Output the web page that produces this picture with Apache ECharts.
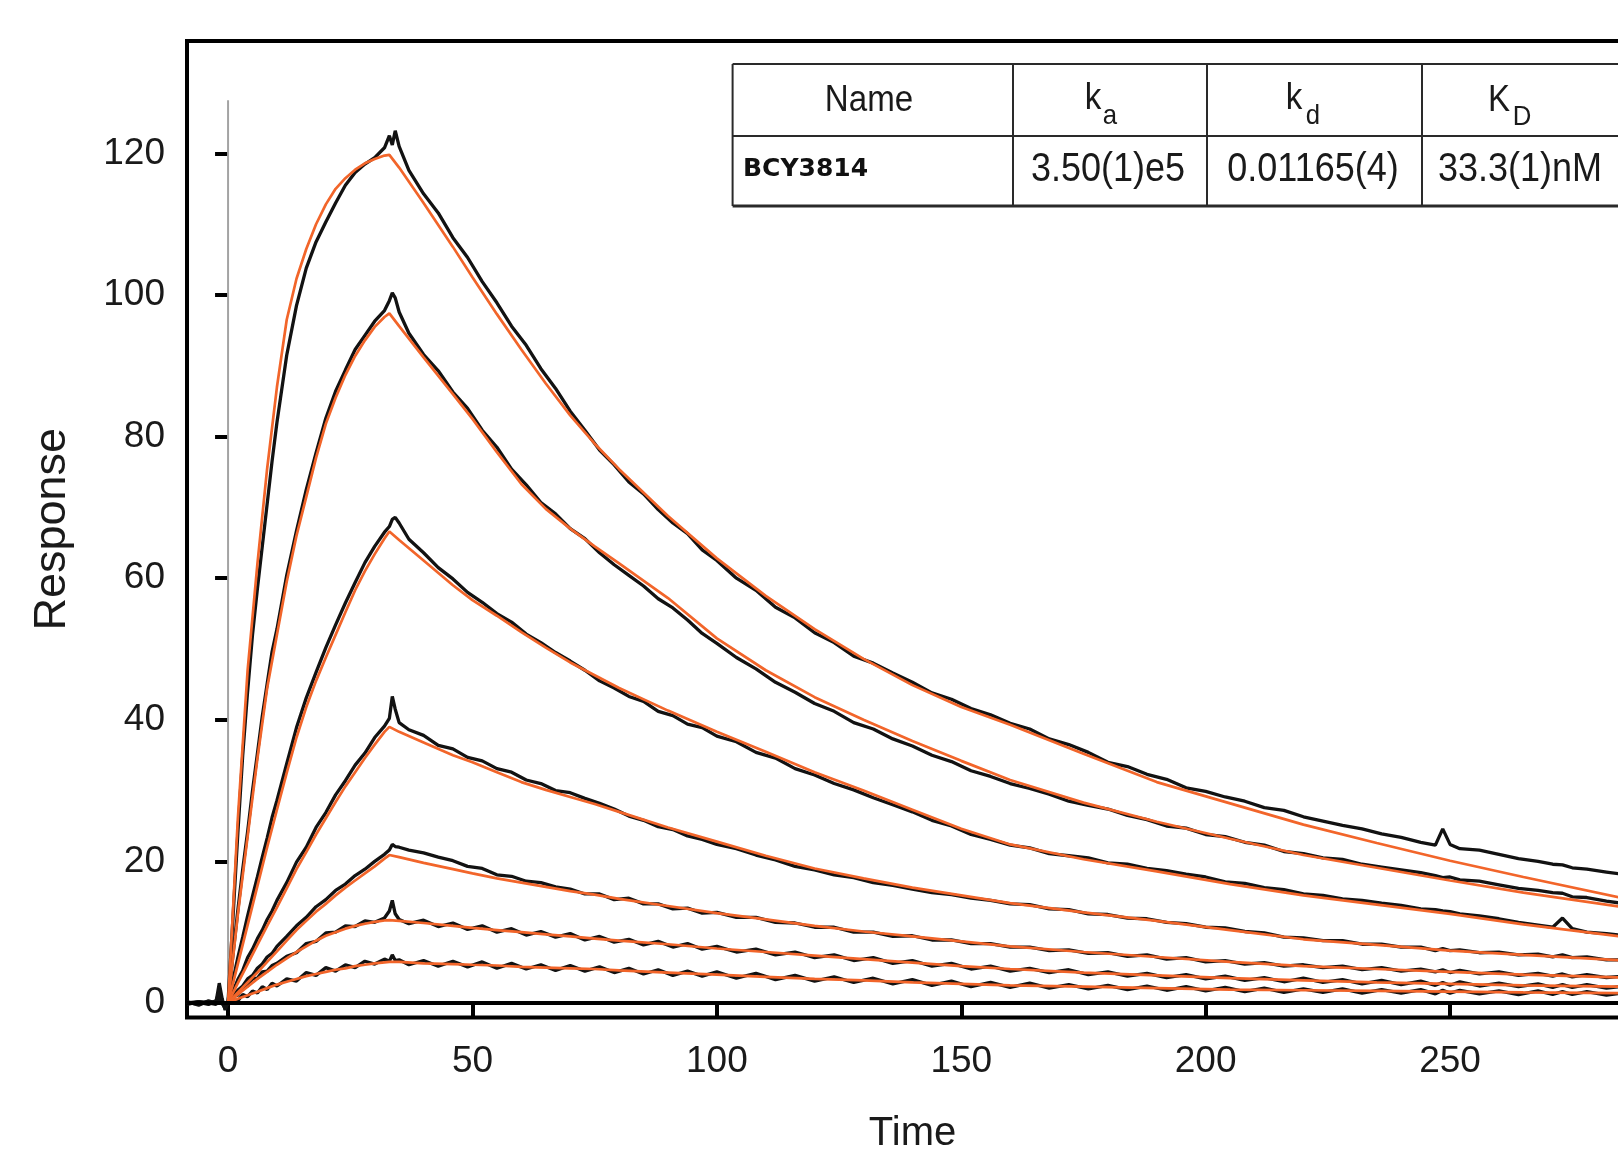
<!DOCTYPE html>
<html>
<head>
<meta charset="utf-8">
<script src="https://cdn.jsdelivr.net/npm/echarts@6/dist/echarts.min.js"></script>
<style>html,body{margin:0;padding:0;background:#fff}#c{width:1618px;height:1151px}</style>
</head>
<body>
<div id="c"></div>
<script>
// ---------- data ----------
const xTicks = [0, 50, 100, 150, 200, 250];
const yTicks = [0, 20, 40, 60, 80, 100, 120];
const injectionMarker = [[0, 0], [0, 127.5]];

const tableHeader = ['Name', 'k', 'a', 'k', 'd', 'K', 'D'];
const tableRow = ['BCY3814', '3.50(1)e5', '0.01165(4)', '33.3(1)nM'];

// fitted curves (orange)
const fitTime = [-8.4, 0, 2, 4, 6, 8, 10, 12, 14, 16, 18, 20, 22, 24, 26, 28, 30, 32, 33,
  35, 40, 46, 50, 55, 60, 65, 70, 75, 80, 90, 100, 110, 120, 130, 140, 150, 160,
  175, 190, 205, 220, 235, 250, 265, 286];
const fit1 = [0, 0, 26, 47, 62, 75.5, 87, 96.5, 102.3, 106.5, 110, 112.8, 115, 116.5, 117.7, 118.6, 119.2, 119.7, 119.8,
  118, 113, 106.8, 102.5, 97.3, 92.3, 87.5, 83, 79, 75.4, 68.8, 62.8, 57.5, 52.8, 48.6, 44.9, 41.8, 39.3,
  35.2, 31.2, 28.2, 25.2, 22.6, 20.1, 17.8, 14.7];
const fit2 = [0, 0, 12.5, 23.5, 34.5, 44.5, 52, 59.5, 66, 71.5, 77, 81.8, 85.5, 88.7, 91.4, 93.6, 95.5, 96.9, 97.4,
  95.6, 91.2, 86, 82.5, 77.8, 73.3, 69.8, 67, 64.5, 62.1, 57.2, 51.5, 47, 43.2, 40, 37, 34.2, 31.5,
  28.3, 25.6, 23.2, 20.9, 19.1, 17.3, 15.6, 13.5];
const fit3 = [0, 0, 5.5, 11, 16.5, 22, 27.3, 32.5, 37.5, 41.8, 45.5, 48.8, 52, 55.2, 58.3, 61, 63.4, 65.6, 66.6,
  65.4, 62.5, 59, 56.9, 54.7, 52.4, 50.2, 48.1, 46.3, 44.5, 41.3, 38.3, 35.5, 32.6, 30, 27.3, 24.6, 22.4,
  20.3, 18.6, 16.8, 15.2, 13.9, 12.6, 11.1, 9.3];
const fit4 = [0, 0, 2.8, 5.5, 8.2, 10.9, 13.5, 16.2, 18.9, 21.3, 23.8, 26.1, 28.4, 30.6, 32.6, 34.6, 36.5, 38.3, 39,
  38.3, 36.8, 35, 34, 32.6, 31.2, 30.1, 29.1, 28.1, 27, 24.8, 22.8, 20.8, 19, 17.6, 16.3, 15.2, 14.1,
  12.8, 11.6, 10.3, 9, 8.2, 7.4, 6.8, 6];
const fit5 = [0, 0, 1.5, 2.9, 4.3, 5.8, 7.3, 8.8, 10.3, 11.6, 12.9, 14, 15.2, 16.3, 17.3, 18.3, 19.3, 20.4, 20.9,
  20.6, 19.8, 18.9, 18.3, 17.6, 17, 16.4, 15.8, 15.3, 14.7, 13.7, 12.7, 11.8, 10.9, 10.1, 9.4, 8.7, 8,
  7.2, 6.5, 5.8, 5.2, 4.8, 4.4, 4, 3.6];
const fit6 = [0, 0, 1.2, 2.3, 3.4, 4.4, 5.4, 6.3, 7.2, 8, 8.8, 9.5, 10, 10.5, 10.9, 11.2, 11.45, 11.65, 11.7,
  11.6, 11.3, 10.9, 10.6, 10.3, 10, 9.7, 9.4, 9.1, 8.8, 8.3, 7.7, 7.2, 6.7, 6.2, 5.7, 5.2, 4.8,
  4.3, 3.9, 3.5, 3.2, 2.9, 2.7, 2.5, 2.3];
const fit7 = [0, 0, 0.6, 1.1, 1.6, 2.1, 2.6, 3, 3.4, 3.8, 4.1, 4.4, 4.7, 4.9, 5.2, 5.4, 5.6, 5.75, 5.8,
  5.8, 5.6, 5.5, 5.4, 5.3, 5.1, 5, 4.9, 4.8, 4.6, 4.3, 4, 3.7, 3.4, 3.2, 2.9, 2.7, 2.5,
  2.3, 2.1, 1.9, 1.8, 1.7, 1.6, 1.5, 1.4];

// measured sensorgrams (black)
const dataTime = [-8.4, -6, -4, -2.5, -1.8, -1.2, -0.6, 0,
  1, 2, 3, 4, 5, 6, 7, 8, 9, 10, 12, 14, 16, 18, 20, 22, 24, 26, 28, 30, 32, 33, 33.6, 34.2, 35,
  37, 40, 43, 46, 49, 52, 55, 58, 61, 64, 67, 70, 73, 76, 79, 82, 85, 88, 91, 94, 97, 100,
  104, 108, 112, 116, 120, 124, 128, 132, 136, 140, 144, 148, 152, 156, 160, 164, 168, 172,
  176, 180, 184, 188, 192, 196, 200, 204, 208, 212, 216, 220, 224, 228, 232, 236, 240, 244,
  247, 248.5, 250, 252, 256, 260, 264, 268, 271, 273, 275, 278, 282, 286];
const data1 = [0.2, -0.3, 0.3, 0.0, 2.8, 0.6, -1.0, 0.2,
  12, 24, 35, 44, 52, 58.5, 64.5, 70.5, 76.5, 82, 91.5, 98.5, 103.8, 107.5, 110.3, 113, 115.5, 117.3, 118.5, 119.4, 120.8, 122.5, 121.2, 123.2, 121,
  117.6, 114.3, 111.6, 108.1, 105.3, 101.9, 98.9, 95.6, 92.9, 89.6, 86.8, 83.6, 80.9, 78.1, 76.0, 73.6, 71.9, 69.7, 67.8, 66.3, 64.0, 62.5,
  60.0, 58.3, 55.9, 54.4, 52.3, 50.9, 49.0, 48.0, 46.6, 45.3, 43.8, 42.9, 41.6, 40.7, 39.5, 38.7, 37.3, 36.5,
  35.4, 34.0, 33.4, 32.3, 31.6, 30.4, 29.9, 29.1, 28.5, 27.6, 27.2, 26.3, 25.7, 25.1, 24.6, 23.9, 23.4, 22.7,
  22.3, 24.6, 22.4, 21.8, 21.6, 21.0, 20.4, 20.0, 19.6, 19.5, 19.1, 18.9, 18.5, 18.1];
const data2 = [-0.2, 0.2, -0.1, 0.3, 1.5, 0.2, -0.6, 0.1,
  6.8, 13.1, 18.9, 24.2, 30, 35.2, 40.5, 45.1, 49.6, 52.8, 60.4, 66.7, 72.5, 77.7, 82.6, 86.4, 89.4, 92.3, 94.3, 96.3, 97.8, 99.2, 100.3, 99.6, 97.6,
  94.6, 91.6, 89.3, 86.3, 84.0, 80.9, 78.5, 75.4, 73.2, 70.7, 69.1, 67.0, 65.6, 63.6, 61.9, 60.4, 58.9, 57.1, 55.8, 54.1, 52.2, 50.8,
  48.8, 47.2, 45.3, 43.9, 42.3, 41.2, 39.6, 38.7, 37.3, 36.3, 35.0, 34.1, 32.8, 32.0, 31.0, 30.3, 29.5, 28.5,
  27.9, 27.4, 26.5, 25.9, 25.0, 24.7, 23.8, 23.5, 22.7, 22.3, 21.4, 21.1, 20.5, 20.3, 19.6, 19.2, 18.8, 18.4,
  18.0, 17.7, 17.8, 17.4, 17.2, 16.7, 16.2, 15.9, 15.6, 15.5, 15.0, 14.9, 14.4, 14.0];
const data3 = [0.1, -0.2, 0.2, -0.1, 0.8, 0.0, -0.8, 0.0,
  3.2, 6.4, 9.3, 12.3, 15.1, 17.8, 20.6, 23.3, 26.2, 28.6, 33.8, 38.9, 43.1, 46.7, 50.2, 53.4, 56.5, 59.4, 62.2, 64.5, 66.5, 67.3, 68.3, 68.6, 67.8,
  65.5, 63.6, 61.5, 59.9, 58.0, 56.6, 55.0, 53.8, 52.1, 50.9, 49.5, 48.3, 47.0, 45.5, 44.5, 43.3, 42.6, 41.2, 40.6, 39.4, 38.9, 37.7,
  36.9, 35.4, 34.6, 33.1, 32.2, 31.0, 30.1, 29.0, 28.0, 27.0, 25.8, 25.0, 23.8, 23.1, 22.3, 21.9, 21.1, 20.8,
  20.5, 19.8, 19.6, 19.0, 18.7, 18.2, 17.8, 17.1, 16.9, 16.3, 16.0, 15.4, 15.2, 14.7, 14.5, 14.1, 13.8, 13.3,
  13.2, 13.0, 12.9, 12.6, 12.3, 11.9, 11.4, 11.0, 10.7, 12.0, 10.5, 10.0, 9.8, 9.5];
const data4 = [-0.1, 0.1, -0.2, 0.2, 0.4, -0.1, -0.3, 0.0,
  1.6, 3.3, 4.6, 6.4, 7.6, 9.1, 10.3, 11.8, 13.0, 14.5, 17.0, 19.9, 22.0, 24.8, 26.9, 29.4, 31.4, 33.6, 35.3, 37.5, 39.1, 40.2, 43.3, 41.5, 39.6,
  38.6, 37.8, 36.4, 35.9, 34.7, 34.2, 33.1, 32.6, 31.5, 31.0, 30.0, 29.7, 28.9, 28.2, 27.4, 26.4, 25.8, 24.9, 24.5, 23.6, 23.1, 22.4,
  21.8, 20.9, 20.2, 19.3, 18.8, 18.1, 17.7, 17.0, 16.6, 16.1, 15.6, 15.3, 14.8, 14.5, 14.0, 13.9, 13.3, 13.2,
  12.6, 12.5, 12.0, 11.9, 11.4, 11.2, 10.7, 10.6, 10.1, 9.9, 9.3, 9.2, 8.8, 8.8, 8.3, 8.3, 7.9, 7.9,
  7.4, 7.7, 7.4, 7.5, 7.1, 7.2, 6.8, 6.9, 6.5, 6.8, 6.4, 6.5, 6.1, 6.1];
const data5 = [0.0, 0.2, 0.0, -0.2, 0.3, 0.1, -0.2, 0.0,
  1.0, 1.8, 2.4, 3.4, 3.9, 4.9, 5.5, 6.5, 7.0, 8.0, 9.4, 10.9, 12.1, 13.6, 14.6, 15.9, 16.8, 18.0, 18.9, 20.0, 21.0, 21.6, 22.4, 22.1, 22.0,
  21.6, 21.2, 20.6, 20.1, 19.3, 19.0, 18.1, 17.9, 17.2, 17.0, 16.4, 16.1, 15.4, 15.4, 14.6, 14.8, 14.0, 14.0, 13.3, 13.4, 12.7, 12.8,
  12.1, 12.1, 11.4, 11.3, 10.7, 10.7, 10.0, 10.0, 9.4, 9.5, 8.9, 8.9, 8.4, 8.4, 7.9, 7.9, 7.4, 7.5,
  7.0, 7.1, 6.6, 6.8, 6.2, 6.4, 5.8, 6.0, 5.5, 5.7, 5.2, 5.4, 5.0, 5.2, 4.7, 5.0, 4.5, 4.8,
  4.4, 4.7, 4.3, 4.6, 4.1, 4.4, 3.9, 4.2, 3.8, 4.1, 3.7, 4.0, 3.6, 3.8];
const data6 = [0.1, -0.1, 0.1, 0.0, 0.2, 0.0, -0.1, 0.0,
  0.9, 1.1, 2.2, 2.4, 3.4, 3.5, 4.4, 4.5, 5.3, 5.6, 6.6, 7.1, 8.4, 8.7, 9.9, 10.0, 10.9, 10.8, 11.6, 11.4, 12.0, 13.0, 14.5, 12.6, 11.8,
  11.2, 11.7, 10.8, 11.3, 10.4, 10.9, 10.0, 10.5, 9.6, 10.1, 9.3, 9.8, 8.9, 9.4, 8.6, 9.0, 8.2, 8.7, 7.9, 8.4, 7.6, 8.0,
  7.2, 7.6, 6.8, 7.2, 6.4, 6.8, 6.0, 6.4, 5.6, 6.0, 5.2, 5.6, 4.8, 5.2, 4.5, 4.9, 4.3, 4.7,
  4.0, 4.4, 3.8, 4.2, 3.6, 4.0, 3.4, 3.8, 3.2, 3.6, 3.0, 3.5, 2.9, 3.3, 2.7, 3.2, 2.6, 3.1,
  2.5, 2.9, 2.5, 3.0, 2.4, 2.8, 2.3, 2.7, 2.2, 2.6, 2.2, 2.6, 2.1, 2.4];
const data7 = [-0.1, 0.0, 0.2, 0.1, 0.1, -0.1, 0.0, 0.0,
  0.5, 0.3, 1.2, 0.9, 1.7, 1.4, 2.3, 1.9, 2.8, 2.4, 3.4, 3.1, 4.3, 3.9, 5.0, 4.5, 5.4, 5.0, 5.9, 5.5, 6.2, 5.9, 6.8, 6.0, 6.1,
  5.4, 6.0, 5.2, 5.9, 5.1, 5.8, 4.9, 5.6, 4.8, 5.4, 4.6, 5.3, 4.5, 5.1, 4.3, 4.9, 4.1, 4.7, 3.9, 4.5, 3.8, 4.4,
  3.5, 4.2, 3.3, 3.9, 3.1, 3.7, 2.9, 3.5, 2.7, 3.3, 2.5, 3.1, 2.3, 2.9, 2.2, 2.8, 2.1, 2.6,
  2.0, 2.5, 1.9, 2.4, 1.8, 2.3, 1.7, 2.2, 1.6, 2.1, 1.5, 2.0, 1.5, 2.0, 1.4, 1.9, 1.4, 1.9,
  1.3, 1.8, 1.4, 1.8, 1.3, 1.7, 1.2, 1.7, 1.2, 1.6, 1.2, 1.6, 1.1, 1.5];

// ---------- chart ----------
const measured = [data1, data2, data3, data4, data5, data6, data7];
const fits = [fit1, fit2, fit3, fit4, fit5, fit6, fit7];
const pair = (ts, vs) => ts.map((t, i) => [t, vs[i]]);

const FONT = "'Liberation Sans', Arial, sans-serif";
const series = [];
series.push({
  type: 'line', data: injectionMarker, symbol: 'none', silent: true, z: 1,
  lineStyle: { color: '#a3a3a3', width: 2 },
  markLine: {
    silent: true, symbol: 'none', label: { show: false }, z: 4,
    lineStyle: { color: '#000', width: 4, type: 'solid' },
    data: [{ yAxis: 0 }]
  }
});
measured.forEach((d, i) => series.push({
  name: 'data' + (i + 1), type: 'line', data: pair(dataTime, d), symbol: 'none', z: 2,
  lineStyle: { color: '#121212', width: 3.3 }, emphasis: { disabled: true }
}));
fits.forEach((d, i) => series.push({
  name: 'fit' + (i + 1), type: 'line', data: pair(fitTime, d), symbol: 'none', z: 3,
  lineStyle: { color: '#f2652a', width: 2.7 }, emphasis: { disabled: true }
}));

// table graphic
const tL = 732.6, tR = 1660, tTop = 64, tMid = 136, tBot = 206;
const colX = [tL, 1013, 1207, 1422];
const gLine = (x1, y1, x2, y2, w) => ({ type: 'line', shape: { x1, y1, x2, y2 }, style: { stroke: '#2a2a2a', lineWidth: w }, z: 10 });
const gText = (text, x, y, size, sx, opts) => ({
  type: 'text', x, y, z: 11, scaleX: sx || 1,
  style: Object.assign({ text, fill: '#1a1a1a', font: size + 'px ' + FONT, textAlign: 'center', textVerticalAlign: 'middle' }, opts || {})
});
const graphics = [
  { type: 'rect', shape: { x: tL, y: tTop, width: tR - tL, height: tBot - tTop }, style: { fill: '#fff' }, z: 9 },
  gLine(tL, tTop, tR, tTop, 2), gLine(tL, tMid, tR, tMid, 2), gLine(tL, tBot, tR, tBot, 3),
  ...colX.map(x => gLine(x, tTop, x, tBot, 2)),
  gText(tableHeader[0], 869, 101, 36, 0.92),
  gText(tableHeader[1], 1093, 99, 36, 0.92), gText(tableHeader[2], 1110, 116, 28, 0.92),
  gText(tableHeader[3], 1294, 99, 36, 0.92), gText(tableHeader[4], 1313, 116, 28, 0.92),
  gText(tableHeader[5], 1499, 101, 36, 0.92), gText(tableHeader[6], 1522, 117, 28, 0.92),
  gText(tableRow[0], 743, 169, 25, 1, { textAlign: 'left', font: 'bold 25px "DejaVu Sans", Verdana, sans-serif', fill: '#111' }),
  gText(tableRow[1], 1108, 170, 40, 0.9),
  gText(tableRow[2], 1313, 170, 40, 0.9),
  gText(tableRow[3], 1520, 170, 40, 0.9)
];

const chart = echarts.init(document.getElementById('c'), null, { renderer: 'canvas' });
chart.setOption({
  animation: false,
  backgroundColor: '#fff',
  grid: {
    left: 187, top: 41, width: 1451, height: 976.5, outerBoundsMode: 'none', containLabel: false,
    show: true, borderColor: '#000', borderWidth: 4, backgroundColor: 'transparent'
  },
  xAxis: {
    type: 'value', min: -8.4, max: 288.45,
    name: 'Time', nameLocation: 'middle', nameGap: 96,
    nameTextStyle: { fontFamily: FONT, fontSize: 40, color: '#1a1a1a' },
    axisLine: { show: false },
    splitLine: { show: false },
    axisTick: { show: true, inside: false, length: 14, lineStyle: { color: '#000', width: 4 }, customValues: xTicks },
    axisLabel: { fontFamily: FONT, fontSize: 37, color: '#1a1a1a', margin: 26, customValues: xTicks }
  },
  yAxis: {
    type: 'value', min: -2.048, max: 135.88,
    name: 'Response', nameLocation: 'middle', nameGap: 112, nameRotate: 90,
    nameTextStyle: { fontFamily: FONT, fontSize: 45, color: '#1a1a1a' },
    axisLine: { show: false },
    splitLine: { show: false },
    axisTick: { show: true, inside: false, length: 13, lineStyle: { color: '#000', width: 4 }, customValues: yTicks },
    axisLabel: { fontFamily: FONT, fontSize: 37, color: '#1a1a1a', margin: 22, customValues: yTicks }
  },
  series,
  graphic: graphics
});
</script>
</body>
</html>
